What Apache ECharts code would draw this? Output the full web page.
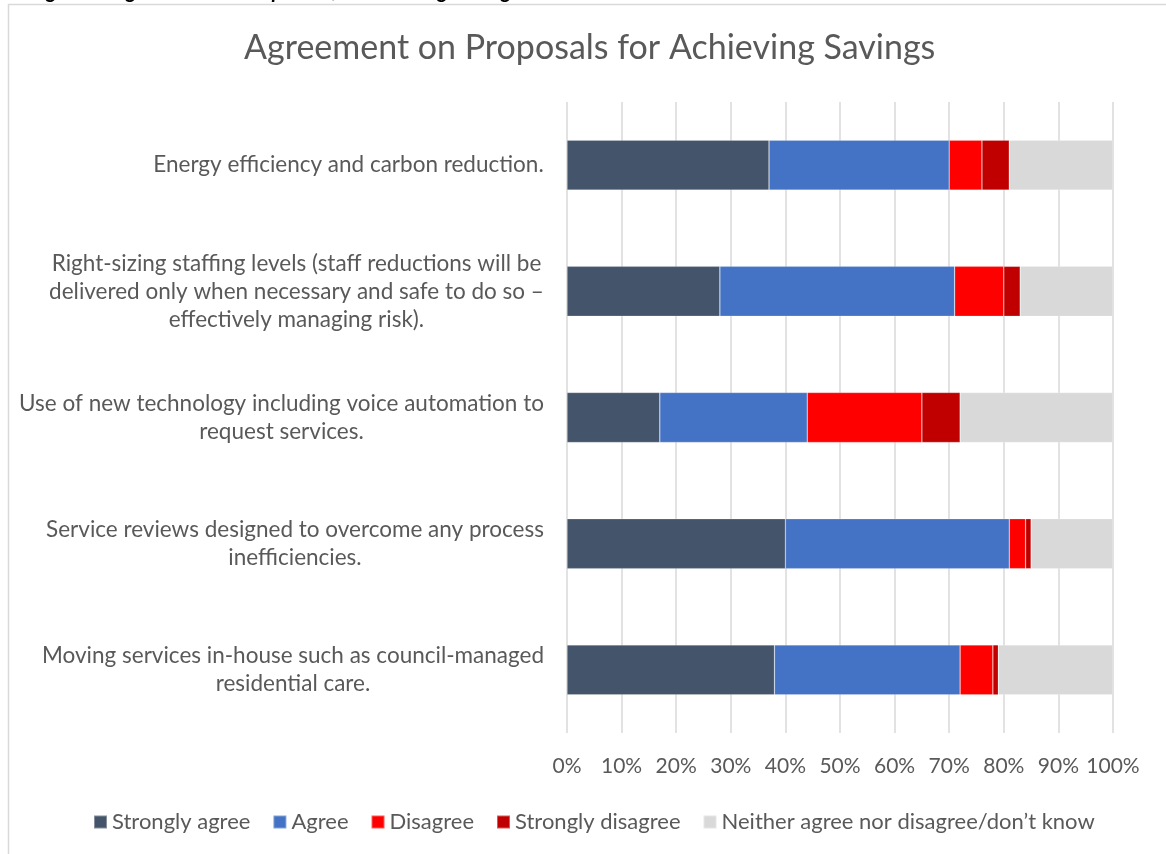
<!DOCTYPE html>
<html>
<head>
<meta charset="utf-8">
<title>Agreement on Proposals for Achieving Savings</title>
<script src="https://cdn.jsdelivr.net/npm/echarts@6/dist/echarts.min.js"></script>
<style>
    html, body { margin: 0; padding: 0; background: #fff; }
    #chart { width: 1166px; height: 854px; }
</style>
</head>
<body>
<div id="chart"></div>
<script>
var FONT = 'Lato';

// categories, top to bottom
var proposals = [
    'Energy efficiency and carbon reduction.',
    'Right-sizing staffing levels (staff reductions will be\ndelivered only when necessary and safe to do so \u2013\neffectively managing risk).',
    'Use of new technology including voice automation to\nrequest services.',
    'Service reviews designed to overcome any process\ninefficiencies.',
    'Moving services in-house such as council-managed\nresidential care.'
];

// percentages per response
var stronglyAgree = [37, 28, 17, 40, 38];
var agree = [33, 43, 27, 41, 34];
var disagree = [6, 9, 21, 3, 6];
var stronglyDisagree = [5, 3, 7, 1, 1];
var neither = [19, 17, 28, 15, 21];

var xTicks = [0, 10, 20, 30, 40, 50, 60, 70, 80, 90, 100];

var seriesNames = ['Strongly agree', 'Agree', 'Disagree', 'Strongly disagree', 'Neither agree nor disagree/don\u2019t know'];
var seriesData = [stronglyAgree, agree, disagree, stronglyDisagree, neither];
var seriesColors = ['#44546A', '#4472C4', '#FF0000', '#C00000', '#D9D9D9'];

// Excel centres each wrapped line inside a right-aligned block, so measure the block
var ctx = document.createElement('canvas').getContext('2d');
ctx.font = '22.5px ' + FONT;
var rich = {};
proposals.forEach(function (p, i) {
    var w = 0;
    p.split('\n').forEach(function (line) {
        w = Math.max(w, ctx.measureText(line).width);
    });
    rich['w' + i] = { width: Math.ceil(w) + 2, align: 'center', fontSize: 22.5, lineHeight: 28, color: '#595959', fontFamily: FONT };
});

var chart = echarts.init(document.getElementById('chart'));

var series = seriesNames.map(function (name, i) {
    return {
        name: name,
        type: 'bar',
        stack: 'total',
        barWidth: 50,
        itemStyle: { color: seriesColors[i], borderColor: 'rgba(255,255,255,0.35)', borderWidth: 0.6 },
        data: seriesData[i]
    };
});

var option = {
    animation: false,
    backgroundColor: '#fff',
    textStyle: { fontFamily: FONT },
    title: {
        text: 'Agreement on Proposals for Achieving Savings',
        left: 239,
        top: 26,
        padding: 5,
        textStyle: { fontSize: 34, fontWeight: 'normal', color: '#595959', fontFamily: FONT }
    },
    legend: {
        left: 88,
        top: 806,
        icon: 'rect',
        itemWidth: 13,
        itemHeight: 13,
        itemGap: 22,
        textStyle: { fontSize: 22, color: '#595959', fontFamily: FONT },
        data: seriesNames
    },
    grid: { left: 567, right: 53, top: 102, bottom: 121, containLabel: false },
    xAxis: {
        type: 'value',
        min: xTicks[0],
        max: xTicks[xTicks.length - 1],
        interval: 10,
        axisLine: { show: false },
        axisTick: { show: false },
        splitLine: { lineStyle: { color: '#D9D9D9', width: 1.5 } },
        axisLabel: { formatter: '{value}%', fontSize: 21, color: '#595959', margin: 23, fontFamily: FONT }
    },
    yAxis: {
        type: 'category',
        inverse: true,
        data: proposals,
        axisLine: { show: false },
        axisTick: { show: false },
        axisLabel: {
            margin: 22,
            lineHeight: 28,
            formatter: function (value, index) {
                return value.split('\n').map(function (line) {
                    return '{w' + index + '|' + line + '}';
                }).join('\n');
            },
            rich: rich
        }
    },
    graphic: [
        {
            type: 'rect',
            silent: true,
            shape: { x: 8.5, y: 4.5, width: 1300, height: 1000 },
            style: { fill: 'none', stroke: '#D9D9D9', lineWidth: 1.5 }
        },
        {
            type: 'text',
            silent: true,
            left: 30,
            top: -19,
            style: { text: 'Figure 5: Agreement on Proposals for Achieving Savings', font: 'italic bold 21px ' + FONT, fill: '#000' }
        }
    ],
    series: series
};

chart.setOption(option);
</script>
</body>
</html>
